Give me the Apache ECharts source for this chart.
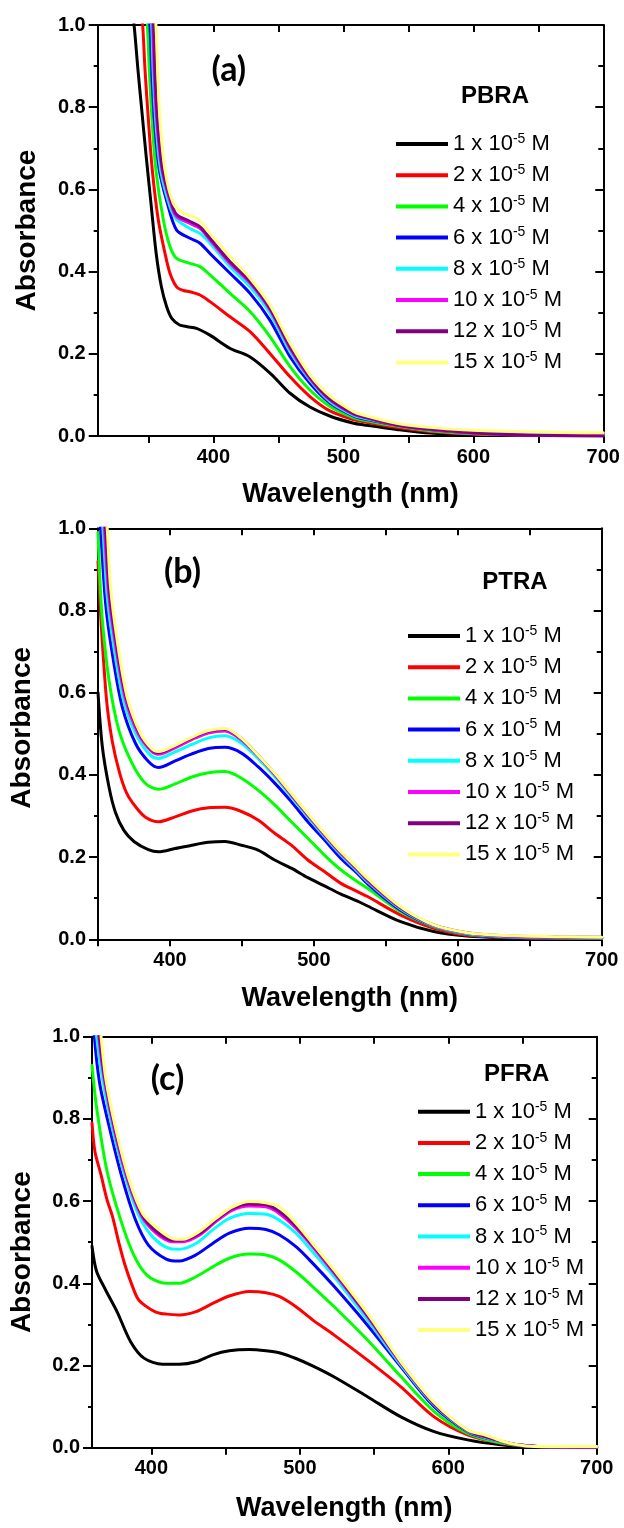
<!DOCTYPE html>
<html>
<head>
<meta charset="utf-8">
<script src="https://cdn.jsdelivr.net/npm/echarts@6/dist/echarts.min.js"></script>
<style>
  html, body { margin: 0; padding: 0; background: #ffffff; }
  #chart { width: 624px; height: 1528px; }
</style>
</head>
<body>
<div id="chart"></div>
<script>
// Concentrations (x 10^-5 M) and their trace colours
const concentrations = [1, 2, 4, 6, 8, 10, 12, 15];
const traceColors = ['#000000', '#ff0000', '#00ff00', '#0000ff', '#00ffff', '#ff00ff', '#800080', '#ffff80'];

// Axis ticks
const absorbanceTicks = [0, 0.2, 0.4, 0.6, 0.8, 1.0];
const wavelengthTicks = [350, 400, 450, 500, 550, 600, 650, 700];
const wavelengthLabels = [400, 500, 600, 700];

// ---- PBRA spectra: [wavelength (nm), absorbance] ----
const PBRA_1 = [[336,1.08],[339,1.0],[342,0.89],[345,0.79],[348,0.69],[352,0.566],[356,0.444],[360,0.363],[364,0.315],[368,0.286],[374,0.27],[380,0.266],[387,0.262],[397,0.246],[413,0.213],[428,0.193],[444,0.152],[459,0.104],[474,0.071],[490,0.048],[508,0.031],[516,0.027],[541,0.016],[567,0.007],[605,0.002],[650,0.001],[700,0]];
const PBRA_2 = [[343,1.08],[345.6,1.0],[347.4,0.891],[350,0.769],[353,0.647],[357.6,0.526],[362.8,0.444],[366.6,0.396],[371.7,0.363],[377,0.354],[382,0.351],[389.7,0.343],[397.4,0.327],[412.8,0.29],[428.2,0.254],[443.5,0.201],[459,0.144],[474.3,0.096],[489.7,0.061],[507.6,0.04],[515.3,0.035],[541,0.021],[566.6,0.011],[605,0.004],[650,0.002],[700,0.002]];
const PBRA_4 = [[347,1.08],[349.2,1.0],[350.7,0.891],[352.8,0.769],[355.8,0.647],[361.5,0.526],[366.6,0.461],[371.7,0.432],[382,0.42],[389.7,0.412],[397.4,0.392],[412.8,0.347],[428.2,0.303],[443.5,0.242],[459,0.169],[474.3,0.112],[489.7,0.072],[507.6,0.045],[515.3,0.039],[541,0.024],[566.6,0.013],[605,0.005],[650,0.003],[700,0.002]];
const PBRA_6 = [[349,1.08],[351.2,1.0],[352.5,0.891],[354.6,0.769],[358.4,0.647],[365.3,0.558],[371.7,0.501],[382,0.481],[389.7,0.469],[397.4,0.444],[412.8,0.396],[428.2,0.347],[443.5,0.282],[459,0.193],[474.3,0.128],[489.7,0.08],[507.6,0.049],[515.3,0.042],[541,0.027],[566.6,0.016],[605,0.007],[650,0.004],[700,0.003]];
const PBRA_8 = [[350,1.08],[352.5,1.0],[353.6,0.891],[355.6,0.769],[359.4,0.647],[366.6,0.558],[371.7,0.527],[382,0.505],[389.7,0.493],[397.4,0.469],[412.8,0.412],[428.2,0.363],[443.5,0.299],[459,0.205],[474.3,0.136],[489.7,0.084],[507.6,0.051],[515.3,0.044],[541,0.028],[566.6,0.017],[605,0.008],[650,0.004],[700,0.003]];
const PBRA_10 = [[351,1.08],[353.3,1.0],[354.4,0.891],[356.4,0.769],[360.5,0.647],[367.9,0.558],[371.7,0.534],[382,0.517],[389.7,0.505],[397.4,0.477],[412.8,0.42],[428.2,0.372],[443.5,0.307],[459,0.213],[474.3,0.14],[489.7,0.088],[507.6,0.053],[515.3,0.046],[541,0.026],[566.6,0.016],[605,0.006],[650,0.002],[700,0.001]];
const PBRA_12 = [[352,1.08],[354,1.0],[355,0.891],[357,0.769],[361,0.647],[368.5,0.56],[372,0.538],[382,0.522],[389.7,0.509],[397.4,0.481],[412.8,0.424],[428.2,0.376],[443.5,0.311],[459,0.217],[474.3,0.143],[489.7,0.09],[507.6,0.055],[515.3,0.047],[541,0.027],[566.6,0.017],[592,0.01],[631,0.003],[660,0.001],[700,0]];
const PBRA_15 = [[353,1.08],[355.8,1.0],[357.1,0.891],[358.9,0.769],[362.8,0.647],[369.2,0.566],[376.9,0.542],[387.1,0.53],[397.4,0.493],[412.8,0.436],[428.2,0.384],[443.5,0.319],[459,0.226],[474.3,0.149],[489.7,0.097],[507.6,0.06],[515.3,0.051],[541,0.031],[566.6,0.021],[592,0.015],[631,0.011],[695,0.008],[700,0.008]];

// ---- PTRA spectra ----
const PTRA_1 = [[350,0.6],[353,0.469],[357.6,0.371],[362,0.31],[368,0.265],[375,0.238],[385,0.218],[392,0.213],[403.6,0.221],[415.2,0.229],[426.7,0.236],[438.2,0.238],[449.7,0.229],[461.2,0.217],[472.8,0.193],[484.3,0.173],[495.8,0.15],[507.3,0.13],[518.8,0.11],[530.3,0.093],[537.3,0.081],[560.3,0.043],[583.3,0.019],[606.4,0.008],[629.4,0.004],[660,0.002],[700,0.002]];
const PTRA_2 = [[350,0.92],[352,0.78],[356,0.58],[360,0.48],[365,0.405],[370,0.355],[376,0.323],[383,0.297],[392,0.286],[403.6,0.298],[415.2,0.312],[426.7,0.32],[438.2,0.321],[449.7,0.311],[461.2,0.29],[472.8,0.258],[484.3,0.229],[495.8,0.193],[507.3,0.165],[518.8,0.136],[530.3,0.116],[537.3,0.104],[560.3,0.059],[583.3,0.027],[606.4,0.01],[629.4,0.005],[660,0.003],[700,0.002]];
const PTRA_4 = [[350,0.99],[351,0.9],[353,0.777],[357.6,0.631],[364.5,0.509],[373.7,0.428],[383,0.379],[392,0.365],[403.6,0.378],[415.2,0.395],[426.7,0.405],[438.2,0.408],[449.7,0.392],[461.2,0.363],[472.8,0.327],[484.3,0.286],[495.8,0.246],[507.3,0.205],[518.8,0.169],[530.3,0.14],[537.3,0.124],[560.3,0.067],[583.3,0.031],[606.4,0.012],[629.4,0.006],[660,0.003],[700,0.002]];
const PTRA_6 = [[350,1.1],[351.8,1.0],[355.3,0.817],[359.9,0.696],[366.8,0.566],[376,0.477],[385.2,0.432],[392,0.418],[403.6,0.434],[415.2,0.451],[426.7,0.464],[438.2,0.467],[449.7,0.453],[461.2,0.42],[472.8,0.38],[484.3,0.335],[495.8,0.286],[507.3,0.242],[518.8,0.197],[530.3,0.16],[537.3,0.135],[560.3,0.071],[583.3,0.032],[606.4,0.013],[629.4,0.006],[660,0.004],[700,0.003]];
const PTRA_8 = [[351,1.1],[353.4,1.0],[356.4,0.834],[361,0.712],[368,0.578],[377.2,0.493],[386.4,0.448],[392,0.44],[403.6,0.456],[415.2,0.474],[426.7,0.49],[438.2,0.495],[449.7,0.477],[461.2,0.44],[472.8,0.396],[484.3,0.347],[495.8,0.298],[507.3,0.25],[518.8,0.205],[530.3,0.165],[537.3,0.14],[560.3,0.074],[583.3,0.033],[606.4,0.014],[629.4,0.007],[660,0.005],[700,0.004]];
const PTRA_10 = [[352,1.1],[354.4,1.0],[357.4,0.84],[362,0.72],[369,0.585],[378,0.5],[387,0.458],[392,0.45],[403.6,0.466],[415.2,0.486],[426.7,0.502],[438.2,0.507],[449.7,0.485],[461.2,0.446],[472.8,0.401],[484.3,0.351],[495.8,0.302],[507.3,0.254],[518.8,0.209],[530.3,0.169],[537.3,0.143],[560.3,0.076],[583.3,0.034],[606.4,0.015],[629.4,0.008],[660,0.005],[700,0.004]];
const PTRA_12 = [[353,1.1],[355.2,1.0],[358,0.845],[362.6,0.724],[369.6,0.588],[378.8,0.502],[387.2,0.461],[392,0.454],[403.6,0.47],[415.2,0.49],[426.7,0.506],[438.2,0.511],[449.7,0.488],[461.2,0.448],[472.8,0.403],[484.3,0.353],[495.8,0.304],[507.3,0.256],[518.8,0.211],[530.3,0.171],[537.3,0.145],[560.3,0.077],[583.3,0.035],[606.4,0.016],[629.4,0.009],[660,0.006],[700,0.005]];
const PTRA_15 = [[354,1.1],[356.4,1.0],[358.7,0.858],[363.3,0.728],[370.2,0.59],[379.5,0.501],[387.5,0.463],[392,0.457],[403.6,0.472],[415.2,0.492],[426.7,0.508],[438.2,0.513],[449.7,0.489],[461.2,0.448],[472.8,0.404],[484.3,0.355],[495.8,0.306],[507.3,0.258],[518.8,0.213],[530.3,0.173],[537.3,0.148],[560.3,0.079],[583.3,0.035],[606.4,0.016],[629.4,0.01],[675,0.006],[700,0.005]];

// ---- PFRA spectra ----
const PFRA_1 = [[360,0.49],[363,0.43],[369,0.385],[377,0.33],[386,0.258],[395,0.218],[407.6,0.203],[418.8,0.203],[430,0.209],[441.3,0.226],[452.5,0.236],[466,0.239],[477.2,0.236],[486.1,0.231],[497.4,0.217],[508.6,0.199],[523.2,0.172],[545.6,0.124],[568.1,0.075],[590.5,0.039],[613,0.019],[635.4,0.007],[657.9,0.001],[700,0]];
const PFRA_2 = [[360,0.79],[362,0.72],[366,0.665],[370,0.605],[374,0.56],[378,0.5],[382,0.447],[387,0.395],[391,0.362],[396,0.345],[403,0.33],[410,0.325],[418.8,0.323],[430,0.331],[441.3,0.351],[452.5,0.369],[466,0.38],[477.2,0.377],[486.1,0.368],[497.4,0.343],[508.6,0.311],[523.2,0.274],[545.6,0.213],[568.1,0.148],[590.5,0.075],[613,0.031],[635.4,0.011],[657.9,0.003],[700,0.001]];
const PFRA_4 = [[360,0.93],[363,0.83],[370,0.675],[379,0.558],[388,0.47],[397,0.42],[408,0.401],[418.8,0.4],[430,0.416],[441.3,0.44],[452.5,0.461],[466,0.471],[477.2,0.469],[486.1,0.457],[497.4,0.428],[508.6,0.392],[523.2,0.343],[545.6,0.262],[568.1,0.173],[590.5,0.088],[613,0.035],[635.4,0.012],[657.9,0.003],[700,0.002]];
const PFRA_6 = [[360,1.1],[361.6,1.0],[365,0.89],[371,0.79],[380,0.66],[389,0.557],[398,0.493],[410,0.459],[418.8,0.454],[430,0.469],[441.3,0.497],[452.5,0.522],[466,0.534],[477.2,0.531],[486.1,0.518],[497.4,0.489],[508.6,0.449],[523.2,0.392],[545.6,0.298],[568.1,0.197],[590.5,0.1],[613,0.039],[624,0.025],[635.4,0.015],[647,0.006],[660,0.003],[700,0.002]];
const PFRA_8 = [[361,1.1],[363.1,1.0],[367.2,0.895],[374,0.773],[383,0.651],[391.9,0.562],[400.9,0.513],[412,0.485],[418.8,0.483],[430,0.497],[441.3,0.53],[452.5,0.558],[466,0.57],[477.2,0.568],[486.1,0.554],[497.4,0.522],[508.6,0.477],[523.2,0.416],[545.6,0.311],[568.1,0.201],[590.5,0.104],[613,0.04],[624,0.026],[635.4,0.015],[647,0.007],[660,0.003],[700,0.002]];
const PFRA_10 = [[362,1.1],[364.5,1.0],[368.3,0.895],[375,0.773],[384,0.651],[393,0.566],[403.1,0.522],[414.3,0.501],[421,0.501],[432.3,0.517],[443.5,0.55],[454.7,0.578],[466,0.588],[477.2,0.586],[486.1,0.57],[497.4,0.534],[508.6,0.489],[523.2,0.424],[545.6,0.319],[568.1,0.205],[590.5,0.106],[613,0.041],[624,0.027],[635.4,0.016],[647,0.007],[660,0.003],[700,0.002]];
const PFRA_12 = [[362.5,1.1],[365,1.0],[368.8,0.895],[375.5,0.775],[384.5,0.653],[393.5,0.568],[403.5,0.526],[414.3,0.505],[421,0.505],[432.3,0.521],[443.5,0.554],[454.7,0.582],[466,0.593],[477.2,0.591],[486.1,0.575],[497.4,0.539],[508.6,0.493],[523.2,0.428],[545.6,0.322],[568.1,0.207],[590.5,0.107],[613,0.042],[624,0.028],[635.4,0.016],[647,0.007],[660,0.003],[700,0.002]];
const PFRA_15 = [[363,1.1],[366.1,1.0],[369.4,0.895],[376.2,0.773],[385.1,0.651],[394.1,0.57],[405.3,0.53],[414.3,0.509],[421,0.507],[432.3,0.526],[443.5,0.558],[454.7,0.586],[466,0.599],[477.2,0.596],[486.1,0.586],[497.4,0.546],[508.6,0.497],[523.2,0.432],[545.6,0.327],[568.1,0.209],[590.5,0.11],[613,0.043],[625,0.031],[635.4,0.017],[646.6,0.007],[657.9,0.003],[700,0.003]];

const panelLetters = ['(a)', '(b)', '(c)'];
const compoundNames = ['PBRA', 'PTRA', 'PFRA'];
const wavelengthMins = [311, 350, 360];
const panelSpectra = [
  [PBRA_1, PBRA_2, PBRA_4, PBRA_6, PBRA_8, PBRA_10, PBRA_12, PBRA_15],
  [PTRA_1, PTRA_2, PTRA_4, PTRA_6, PTRA_8, PTRA_10, PTRA_12, PTRA_15],
  [PFRA_1, PFRA_2, PFRA_4, PFRA_6, PFRA_8, PFRA_10, PFRA_12, PFRA_15]
];

// ---- layout ----
const FONT = "'Liberation Sans', Arial, sans-serif";
const grids = [
  { left: 97.7, top: 25, width: 505.6, height: 411 },
  { left: 95.7, top: 528.3, width: 506, height: 411 },
  { left: 91, top: 1036.7, width: 505.7, height: 411 }
];
const yNameGaps = [56, 62, 56];
const yNameShift = [0, 12, -20];   // nudges the rotated title along the axis
const xNameGaps = [45, 46, 47];
const legendPos = [[396, 132], [408, 624], [418, 1099.7]];
const letterPos = [[228.8, 70], [182.5, 571.7], [167.5, 1079]];
const compoundPos = [[495, 96], [515, 582], [516.7, 1074.5]];

const seriesNames = concentrations.map(c => c + ' x 10-5 M');

const axisLine = { show: true, onZero: false, lineStyle: { color: '#000', width: 2 } };
const tickLine = { color: '#000', width: 2 };

const xAxes = [], yAxes = [], series = [], legends = [], graphics = [];

grids.forEach((g, p) => {
  const xMin = wavelengthMins[p];
  const ticks = wavelengthTicks.filter(v => v >= xMin);
  // bottom axis (labelled) and mirrored top axis
  xAxes.push({
    gridIndex: p, type: 'value', position: 'bottom', min: xMin, max: 700,
    axisLine: axisLine,
    axisTick: { show: true, inside: false, length: 7, lineStyle: tickLine, customValues: ticks },
    axisLabel: { show: true, customValues: wavelengthLabels, margin: 11, color: '#000',
      fontFamily: FONT, fontWeight: 'bold', fontSize: 20 },
    splitLine: { show: false },
    name: 'Wavelength (nm)', nameLocation: 'middle', nameGap: xNameGaps[p],
    nameTextStyle: { color: '#000', fontFamily: FONT, fontWeight: 'bold', fontSize: 27 }
  });
  xAxes.push({
    gridIndex: p, type: 'value', position: 'top', min: xMin, max: 700,
    axisLine: axisLine,
    axisTick: { show: true, inside: true, length: 7, lineStyle: tickLine, customValues: ticks },
    axisLabel: { show: false },
    splitLine: { show: false }
  });
  // left axis (labelled) and mirrored right axis
  const sh = yNameShift[p];
  yAxes.push({
    gridIndex: p, type: 'value', position: 'left', min: 0, max: 1, interval: 0.2,
    axisLine: axisLine,
    axisTick: { show: true, inside: false, length: 9, lineStyle: tickLine },
    minorTick: { show: true, splitNumber: 2, length: 4, lineStyle: tickLine },
    axisLabel: { show: true, margin: 12, color: '#000', fontFamily: FONT, fontWeight: 'bold', fontSize: 20,
      formatter: v => v.toFixed(1) },
    splitLine: { show: false },
    name: 'Absorbance', nameLocation: 'middle', nameGap: yNameGaps[p],
    nameTextStyle: { color: '#000', fontFamily: FONT, fontWeight: 'bold', fontSize: 28,
      padding: sh >= 0 ? [0, 0, 0, sh] : [0, -sh, 0, 0] }
  });
  yAxes.push({
    gridIndex: p, type: 'value', position: 'right', min: 0, max: 1, interval: 0.2,
    axisLine: axisLine,
    axisTick: { show: true, inside: true, length: 8, lineStyle: tickLine },
    minorTick: { show: true, splitNumber: 2, length: 5, lineStyle: tickLine },
    axisLabel: { show: false },
    splitLine: { show: false }
  });

  panelSpectra[p].forEach((spec, k) => {
    series.push({
      type: 'line', name: seriesNames[k],
      xAxisIndex: 2 * p, yAxisIndex: 2 * p,
      data: spec,
      symbol: 'none', showSymbol: false,
      smooth: 0.3,
      clip: true,
      z: 2 + k,
      lineStyle: { color: traceColors[k], width: 3, join: 'round', cap: 'round' },
      itemStyle: { color: traceColors[k] },
      emphasis: { disabled: true }
    });
  });

  legends.push({
    show: true, orient: 'vertical',
    left: legendPos[p][0], top: legendPos[p][1],
    padding: 0, itemGap: 8.2, itemWidth: 52, itemHeight: 4,
    icon: 'rect', selectedMode: false,
    data: seriesNames,
    formatter: name => '{n|' + name.split(' ')[0] + ' x 10}{s|-5}{n| M}',
    textStyle: {
      color: '#000',
      rich: {
        n: { fontFamily: FONT, fontSize: 22, lineHeight: 24, color: '#000' },
        s: { fontFamily: FONT, fontSize: 14, lineHeight: 14, color: '#000', verticalAlign: 'top' }
      }
    }
  });

  graphics.push({
    type: 'text', x: letterPos[p][0], y: letterPos[p][1], silent: true,
    style: { text: panelLetters[p], font: "bold 34px Lato, 'Open Sans', sans-serif", fill: '#000',
      textAlign: 'center', textVerticalAlign: 'middle' }
  });
  graphics.push({
    type: 'text', x: compoundPos[p][0], y: compoundPos[p][1], silent: true,
    style: { text: compoundNames[p], font: "bold 24px 'Liberation Sans', Arial, sans-serif", fill: '#000',
      textAlign: 'center', textVerticalAlign: 'middle' }
  });
});

const chart = echarts.init(document.getElementById('chart'), null, { renderer: 'canvas' });
chart.setOption({
  animation: false,
  backgroundColor: '#ffffff',
  grid: grids.map(g => Object.assign({ containLabel: false }, g)),
  xAxis: xAxes,
  yAxis: yAxes,
  legend: legends,
  series: series,
  graphic: graphics
});
</script>
</body>
</html>
